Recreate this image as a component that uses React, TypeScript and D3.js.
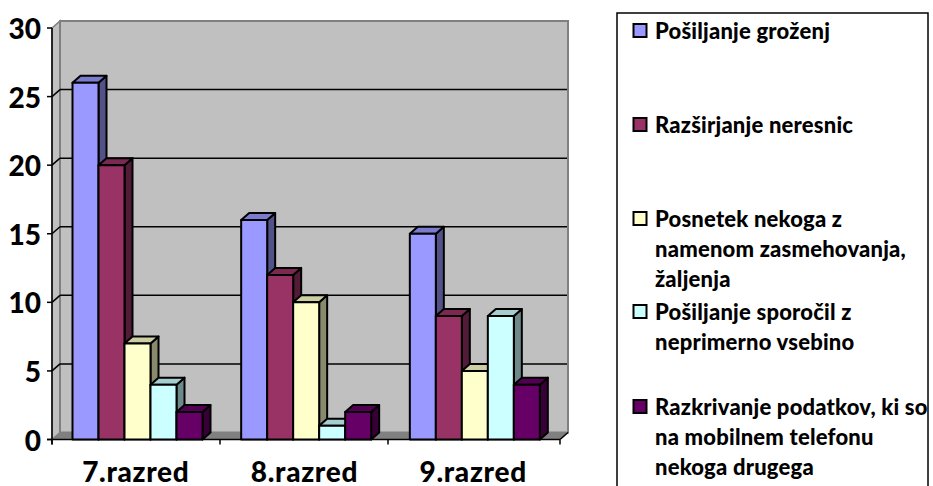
import React from "react";
import * as d3 from "d3";

const categories = ["7.razred", "8.razred", "9.razred"];
const seriesNames = ["Pošiljanje groženj", "Razširjanje neresnic", "Posnetek nekoga z namenom", "Pošiljanje sporočil", "Razkrivanje podatkov"];
const grozenj = [26, 16, 15];
const neresnic = [20, 12, 9];
const posnetek = [7, 10, 5];
const sporocil = [4, 1, 9];
const podatkov = [2, 2, 4];
const seriesValues = [grozenj, neresnic, posnetek, sporocil, podatkov];
const colors = ["#9999ff", "#993366", "#ffffcc", "#ccffff", "#660066"];
const yTicks = [0, 5, 10, 15, 20, 25, 30];
const legendLines = [
  ["Pošiljanje groženj"],
  ["Razširjanje neresnic"],
  ["Posnetek nekoga z", "namenom zasmehovanja,", "žaljenja"],
  ["Pošiljanje sporočil z", "neprimerno vsebino"],
  ["Razkrivanje podatkov, ki so", "na mobilnem telefonu", "nekoga drugega"],
];
const legendTops = [24, 118, 212, 305, 400];

const W = 933, H = 486;
const DX = 8, DY = -7;
const FONT = "Lato, 'Open Sans', sans-serif";

export default function App() {
  const y = d3.scaleLinear().domain([0, 30]).range([439.5, 28]);
  const x0 = d3.scaleBand<string>().domain(categories).range([52, 558]).paddingInner(0).paddingOuter(0);
  const x1 = d3.scaleBand<string>().domain(seriesNames).range([20.5, 150.5]);
  const shade = (c: string, k: number) => d3.rgb(c).darker(k).formatHex();
  const stroke = "#000";
  const tickXs = [52, 220, 388, 560];

  return (
    <svg width={W} height={H} style={{ position: "absolute", left: 0, top: 0 }} fontFamily={FONT}>
      <rect width={W} height={H} fill="#fff" />
      {/* walls */}
      <polygon points={`${52},${y(0)} ${52 + DX},${y(0) + DY} ${52 + DX},${y(30) + DY} ${52},${y(30)}`} fill="#c0c0c0" stroke="#808080" strokeWidth={1.5} />
      <rect x={52 + DX} y={y(30) + DY} width={508} height={y(0) - y(30)} fill="#c0c0c0" stroke="#808080" strokeWidth={2} />
      <polygon points={`${52},${y(0)} ${52 + DX},${y(0) + DY} ${560 + DX},${y(0) + DY} ${560},${y(0)}`} fill="#808080" />
      {/* gridlines */}
      {yTicks.filter(t => t > 0 && t < 30).map(t => (
        <g key={t}>
          <line x1={52} x2={52 + DX} y1={y(t)} y2={y(t) + DY} stroke="#000" strokeWidth={1.5} />
          <line x1={52 + DX} x2={567} y1={y(t) + DY} y2={y(t) + DY} stroke="#000" strokeWidth={1.5} />
        </g>
      ))}
      {/* axes */}
      <line x1={52} x2={52} y1={y(30)} y2={y(0) + 5} stroke="#000" strokeWidth={1.5} />
      <line x1={47} x2={560} y1={y(0)} y2={y(0)} stroke="#000" strokeWidth={1.5} />
      <line x1={560} x2={560 + DX} y1={y(0)} y2={y(0) + DY} stroke="#000" strokeWidth={1.5} />
      {yTicks.map(t => (
        <g key={t}>
          <line x1={47} x2={52} y1={y(t)} y2={y(t)} stroke="#000" strokeWidth={1.5} />
          <text x={41} y={y(t) + 11} textAnchor="end" fontSize={28} fontWeight={900} fill="#000">{t}</text>
        </g>
      ))}
      {tickXs.map(tx => (
        <line key={tx} x1={tx} x2={tx} y1={y(0)} y2={y(0) + 5} stroke="#000" strokeWidth={1.5} />
      ))}
      {categories.map(c => (
        <text key={c} x={x0(c)! + x0.bandwidth() / 2 - 0.5} y={482} textAnchor="middle" fontSize={28} fontWeight={900} letterSpacing={0.7} fill="#000">{c}</text>
      ))}
      {/* bars */}
      {categories.map((c, ci) => (
        <g key={c}>
          {seriesNames.map((s, si) => {
            const v = seriesValues[si][ci];
            const bx = x0(c)! + x1(s)!;
            const bw = x1.bandwidth();
            const top = y(v);
            const bot = y(0);
            return (
              <g key={s} stroke={stroke} strokeWidth={2} strokeLinejoin="round">
                <polygon points={`${bx + bw},${top} ${bx + bw + DX},${top + DY} ${bx + bw + DX},${bot + DY} ${bx + bw},${bot}`} fill={shade(colors[si], 1.75)} />
                <polygon points={`${bx},${top} ${bx + DX},${top + DY} ${bx + bw + DX},${top + DY} ${bx + bw},${top}`} fill={shade(colors[si], 0.6)} />
                <rect x={bx} y={top} width={bw} height={bot - top} fill={colors[si]} />
              </g>
            );
          })}
        </g>
      ))}
      {/* legend */}
      <rect x={617} y={13} width={311} height={490} fill="#fff" stroke="#000" strokeWidth={1.5} />
      {legendLines.map((lines, i) => (
        <g key={i}>
          <rect x={633.5} y={legendTops[i]} width={13} height={13} fill={colors[i]} stroke="#000" strokeWidth={2} />
          {lines.map((l, j) => (
            <text key={j} x={655} y={legendTops[i] + 15 + j * 30} fontSize={22} fontWeight={900} letterSpacing={0.2} fill="#000">{l}</text>
          ))}
        </g>
      ))}
    </svg>
  );
}
